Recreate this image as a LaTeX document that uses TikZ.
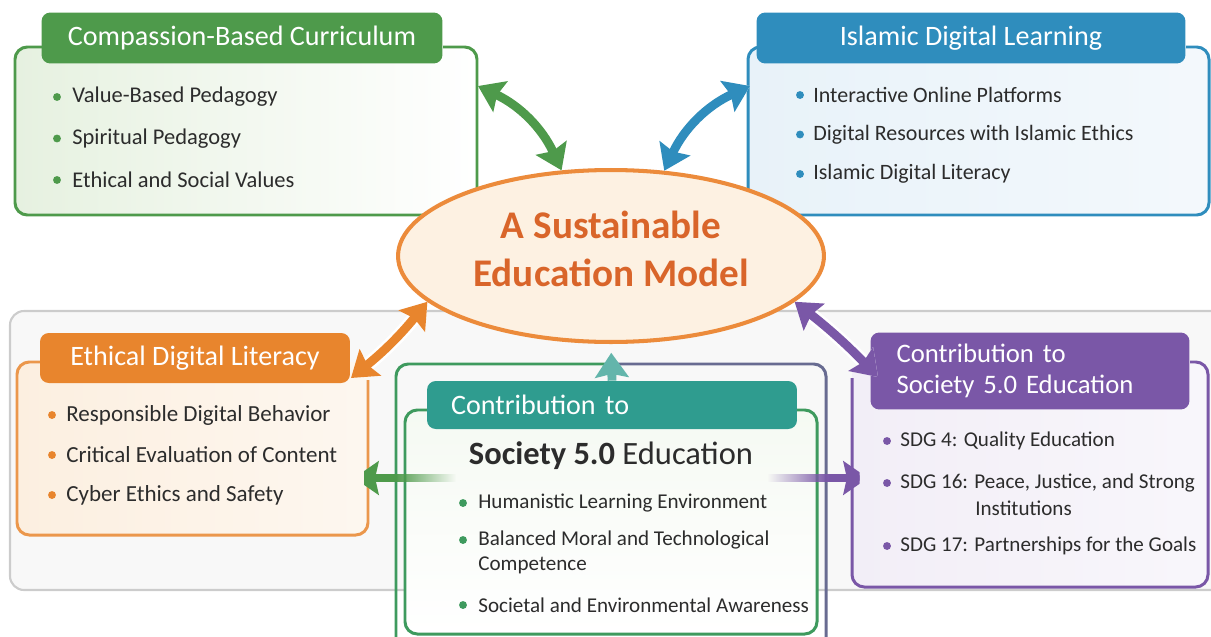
\documentclass[tikz,border=0pt]{standalone}
\usepackage{fontspec}
\setmainfont{Carlito}
\usetikzlibrary{shapes.geometric, arrows.meta, fadings}

\definecolor{leafgreen}{HTML}{4E9A4B}
\definecolor{leafpale}{HTML}{E6F1E0}
\definecolor{seablue}{HTML}{2F8DBD}
\definecolor{seapale}{HTML}{E8F2F9}
\definecolor{sunorange}{HTML}{E8852D}
\definecolor{sunpale}{HTML}{FCEFE0}
\definecolor{modelline}{HTML}{EC8B3B}
\definecolor{modelfill}{HTML}{FDF1E2}
\definecolor{modeltext}{HTML}{D9652A}
\definecolor{grape}{HTML}{7A57A7}
\definecolor{grapepale}{HTML}{F2EEF7}
\definecolor{tealtab}{HTML}{2F9C8F}
\definecolor{framegreen}{HTML}{3E9A5E}
\definecolor{panelgray}{HTML}{F8F8F8}
\definecolor{panelline}{HTML}{CCCCCC}
\definecolor{ink}{HTML}{2C2C2C}

\tikzfading[name=fadeleft, left color=transparent!0, right color=transparent!100]
\tikzfading[name=faderight, left color=transparent!100, right color=transparent!0]

\begin{document}
\begin{tikzpicture}
    [
        x = 0.02cm,
        y = -0.02cm,
        tab/.style={
            rounded corners = 5pt,
            inner sep = 0pt,
            text = white,
            font = \fontsize{16}{18}\selectfont
        },
        frame/.style={
            line width = 1.7pt,
            rounded corners = 7pt
        },
        item/.style={
            anchor = west,
            inner sep = 0pt,
            text = ink,
            font = \fontsize{12}{14.5}\selectfont
        },
        bullet/.style={
            circle,
            inner sep = 0pt,
            minimum size = 4.5pt
        },
        link/.style={
            line width = 5pt,
            arrows = {Stealth[length=14pt, width=19pt, inset=2pt]-Stealth[length=14pt, width=19pt, inset=2pt]},
            preaction = {draw = white, line width = 8pt}
        },
        flow/.style={
            line width = 5pt,
            arrows = {-Stealth[length=14pt, width=19pt, inset=2pt]}
        }
    ]

    \useasboundingbox (0,0) rectangle (1211,636);

    \draw[panelline, fill = panelgray, line width = 1.2pt, rounded corners = 8pt] (10,311) rectangle (1240,590);

    % compassion-based curriculum
    \shade[left color = leafpale, right color = white, rounded corners = 7pt] (15,47) rectangle (477,215);
    \draw[frame, leafgreen] (42,47) -- (15,47) -- (15,215) -- (477,215) -- (477,47) -- (443,47);
    \node[tab, fill = leafgreen, minimum width = 8.02cm, minimum height = 1.02cm] (curriculum) at (242,38) {Compassion-Based Curriculum};
    \foreach \txt [count = \i] in {Value-Based Pedagogy, Spiritual Pedagogy, Ethical and Social Values} {
        \node[bullet, fill = leafgreen] (curriculum-dot-\i) at (57, 55.5 + 41.5*\i) {};
        \node[item, font = \fontsize{12.8}{14.5}\selectfont] (curriculum-\i) at (72, 55.5 + 41.5*\i) {\txt};
    }

    % islamic digital learning
    \shade[left color = seapale, right color = white!50!seapale, rounded corners = 7pt] (748,47) rectangle (1209,215);
    \draw[frame, seablue] (757,47) -- (748,47) -- (748,215) -- (1209,215) -- (1209,47) -- (1186,47);
    \node[tab, fill = seablue, minimum width = 8.58cm, minimum height = 1.02cm] (islamic) at (971,38) {Islamic Digital Learning};
    \foreach \txt [count = \i] in {Interactive Online Platforms, Digital Resources with Islamic Ethics, Islamic Digital Literacy} {
        \node[bullet, fill = seablue] (islamic-dot-\i) at (800, 55.5 + 39.5*\i) {};
        \node[item, font = \fontsize{12.5}{14.5}\selectfont] (islamic-\i) at (813, 55.5 + 39.5*\i) {\txt};
    }

    % ethical digital literacy
    \shade[left color = sunpale, right color = white!50!sunpale, rounded corners = 7pt] (17,362) rectangle (368,535);
    \draw[frame, sunorange!85] (40,362) -- (17,362) -- (17,535) -- (368,535) -- (368,380);
    \node[tab, fill = sunorange, minimum width = 6.2cm, minimum height = 1cm] (literacy) at (195,358) {Ethical Digital Literacy};
    \foreach \txt [count = \i] in {Responsible Digital Behavior, Critical Evaluation of Content, Cyber Ethics and Safety} {
        \node[bullet, fill = sunorange] (literacy-dot-\i) at (52, 375 + 40*\i) {};
        \node[item, font = \fontsize{13.1}{14.5}\selectfont] (literacy-\i) at (66, 375 + 40*\i) {\txt};
    }

    % society 5.0 (centre)
    \draw[frame, framegreen] (396,650) -- (396,364) -- (611,364);
    \draw[frame, grape!70!framegreen] (611,364) -- (826,364) -- (826,650);
    \shade[top color = white!60!leafpale, bottom color = white, rounded corners = 7pt] (405,410) rectangle (817,634);
    \draw[frame, framegreen] (427,410) -- (405,410) -- (405,634) -- (817,634) -- (817,410) -- (797,410);
    \node[tab, fill = tealtab, minimum width = 7.4cm, minimum height = 0.96cm, inner xsep = 0.48cm, text width = 6.44cm, align = left] (society) at (612,405) {Contribution to};
    \node[text = ink, inner sep = 0pt, font = \fontsize{18.5}{22}\selectfont] (society-title) at (611,456) {\textbf{Society 5.0} Education};
    \node[bullet, fill = framegreen] (society-dot-1) at (463,503) {};
    \node[item] (society-1) at (478,503) {Humanistic Learning Environment};
    \node[bullet, fill = framegreen] (society-dot-2) at (463,540) {};
    \node[item, align = left] (society-2) at (478,552.5) {Balanced Moral and Technological\\Competence};
    \node[bullet, fill = framegreen] (society-dot-3) at (463,605) {};
    \node[item] (society-3) at (478,605) {Societal and Environmental Awareness};

    % sdg contribution
    \shade[left color = grapepale, right color = white!50!grapepale, rounded corners = 7pt] (852,362) rectangle (1208,587);
    \draw[frame, grape] (852,378) -- (852,587) -- (1208,587) -- (1208,362) -- (1190,362);
    \node[tab, fill = grape, minimum width = 6.38cm, minimum height = 1.54cm, inner xsep = 0.52cm, text width = 5.34cm, align = left, font = \fontsize{15.2}{18}\selectfont] (sdg) at (1030,371) {Contribution to\\Society 5.0 Education};
    \node[bullet, fill = grape] (sdg-dot-1) at (887,441) {};
    \node[item] (sdg-1) at (900,441) {SDG 4: Quality Education};
    \node[bullet, fill = grape] (sdg-dot-2) at (887,483) {};
    \node[item] (sdg-2) at (900,483) {SDG 16: Peace, Justice, and Strong};
    \node[item] (sdg-2b) at (975,508) {Institutions};
    \node[bullet, fill = grape] (sdg-dot-3) at (887,546) {};
    \node[item] (sdg-3) at (900,546) {SDG 17: Partnerships for the Goals};

    % model
    \node[ellipse, draw = modelline, fill = modelfill, line width = 2.3pt, minimum width = 8.52cm, minimum height = 3.44cm] (model) at (611,256) {};
    \node[align = center, inner sep = 0pt, text = modeltext, font = \fontsize{22.3}{27}\selectfont\bfseries] (model-title) at (611,249) {A Sustainable\\Education Model};

    % connectors
    \coordinate (curriculum-end) at (478,86);
    \coordinate (islamic-end) at (750,86);
    \coordinate (literacy-end) at (351,378);
    \coordinate (sdg-end) at (878,377);
    \coordinate (left-start) at (470,478);
    \coordinate (left-end) at (354,478);
    \coordinate (right-start) at (752,478);
    \coordinate (right-end) at (868,478);

    \draw[link, leafgreen] (curriculum-end) to[bend left = 20] (model.120);
    \draw[link, seablue] (model.58) to[bend left = 20] (islamic-end);
    \draw[link, sunorange] (model.194) to[bend left = 6] (literacy-end);
    \draw[link, grape] (model.-14) to[bend left = 4] (sdg-end);
    \draw[flow, tealtab!75, shorten > = 5pt] (society.north) -- (model.south);
    \draw[flow, leafgreen, path fading = fadeleft, fit fading = false, fading transform = {shift = {(425,478)}, xscale = 0.7}] (left-start) -- (left-end);
    \draw[flow, grape, path fading = faderight, fit fading = false, fading transform = {shift = {(798,478)}, xscale = 0.7}] (right-start) -- (right-end);
\end{tikzpicture}
\end{document}
